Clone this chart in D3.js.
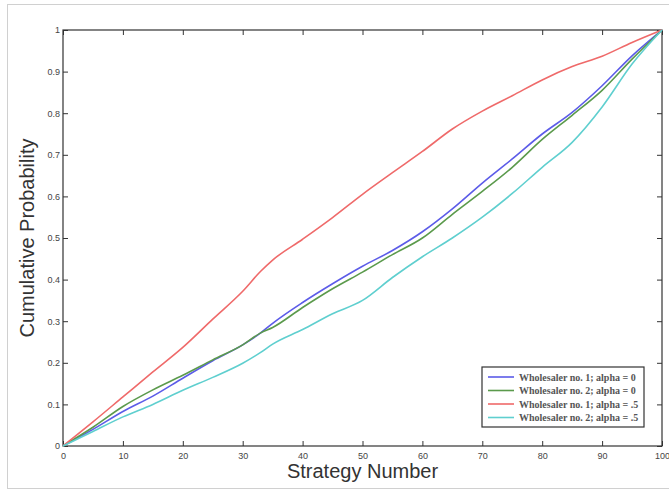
<!DOCTYPE html>
<html>
<head>
<meta charset="utf-8">
<script src="https://cdn.jsdelivr.net/npm/d3@7"></script>
<style>
  body { margin: 0; background: #fff; }
  svg { display: block; }
</style>
</head>
<body>
<script>

// strategy numbers where the curves were read
var strategy = [0, 5, 10, 15, 20, 25, 30, 33, 35, 40, 45, 50, 55, 60, 65, 70, 75, 80, 85, 90, 95, 100]

var w1a0 = [0, 0.040, 0.083, 0.120, 0.163, 0.205, 0.243, 0.272, 0.295, 0.345, 0.390, 0.432, 0.470, 0.515, 0.570, 0.632, 0.690, 0.750, 0.802, 0.866, 0.938, 1]
var w2a0 = [0, 0.045, 0.095, 0.135, 0.170, 0.207, 0.243, 0.272, 0.285, 0.333, 0.378, 0.418, 0.460, 0.500, 0.557, 0.612, 0.670, 0.737, 0.795, 0.855, 0.930, 1]
var w1a5 = [0, 0.058, 0.118, 0.178, 0.237, 0.305, 0.372, 0.420, 0.447, 0.497, 0.549, 0.605, 0.657, 0.708, 0.762, 0.805, 0.842, 0.880, 0.912, 0.937, 0.970, 1]
var w2a5 = [0, 0.035, 0.070, 0.100, 0.134, 0.165, 0.199, 0.225, 0.245, 0.280, 0.318, 0.350, 0.405, 0.455, 0.500, 0.550, 0.607, 0.670, 0.730, 0.815, 0.918, 1]

var seriesNames = ["Wholesaler no. 1; alpha = 0", "Wholesaler no. 2; alpha = 0",
                   "Wholesaler no. 1; alpha = .5", "Wholesaler no. 2; alpha = .5"]
var seriesValues = [w1a0, w2a0, w1a5, w2a5]
var seriesColors = ["#5c5ce8", "#5b9a4c", "#ef6a6a", "#5fcfcf"]

var xTicks = [0, 10, 20, 30, 40, 50, 60, 70, 80, 90, 100]
var yTicks = [0, 0.1, 0.2, 0.3, 0.4, 0.5, 0.6, 0.7, 0.8, 0.9, 1]

var width = 669, height = 491
var margin = {top: 30, right: 7, bottom: 45, left: 63}
var innerW = width - margin.left - margin.right,
    innerH = height - margin.top - margin.bottom

var svg = d3.select("body").append("svg")
    .attr("width", width)
    .attr("height", height)

// light frame round the figure
svg.append("rect")
    .attr("x", 7.5).attr("y", 4.5)
    .attr("width", 700).attr("height", 484)
    .attr("fill", "none")
    .attr("stroke", "#d0d0d0")

var g = svg.append("g")
    .attr("transform", "translate(" + margin.left + "," + margin.top + ")")

var x = d3.scaleLinear().domain([0, 100]).range([0, innerW])
var y = d3.scaleLinear().domain([0, 1]).range([innerH, 0])

var tickFont = "Liberation Sans, Arial, sans-serif"

// axes, ticks pointing inward
function styleAxis(sel) {
  sel.select(".domain").remove()
  sel.selectAll(".tick line").attr("stroke", "#333")
  sel.selectAll(".tick text")
    .attr("fill", "#444")
    .style("font-family", tickFont)
    .style("font-size", "9px")
}

g.append("g")
    .attr("transform", "translate(0," + innerH + ")")
    .call(d3.axisBottom(x).tickValues(xTicks).tickSizeInner(-5).tickPadding(7).tickFormat(d3.format("d")))
    .call(styleAxis)

g.append("g")
    .call(d3.axisTop(x).tickValues(xTicks).tickSizeInner(-5).tickFormat(""))
    .call(styleAxis)

g.append("g")
    .call(d3.axisLeft(y).tickValues(yTicks).tickSizeInner(-5).tickPadding(3).tickFormat(d3.format("~g")))
    .call(styleAxis)

g.append("g")
    .attr("transform", "translate(" + innerW + ",0)")
    .call(d3.axisRight(y).tickValues(yTicks).tickSizeInner(-5).tickFormat(""))
    .call(styleAxis)

g.append("rect")
    .attr("width", innerW).attr("height", innerH)
    .attr("fill", "none")
    .attr("stroke", "#333")
    .attr("stroke-width", 1.2)

// curves
var line = d3.line()
    .curve(d3.curveMonotoneX)
    .x(function(d, i) { return x(strategy[i]) })
    .y(function(d) { return y(d) })

g.selectAll(".curve")
    .data(seriesValues)
  .enter().append("path")
    .attr("class", "curve")
    .attr("d", line)
    .attr("fill", "none")
    .attr("stroke", function(d, i) { return seriesColors[i] })
    .attr("stroke-width", 1.6)
    .attr("stroke-linejoin", "round")

// axis titles
svg.append("text")
    .attr("x", margin.left + innerW / 2)
    .attr("y", 478)
    .attr("text-anchor", "middle")
    .style("font-family", tickFont)
    .style("font-size", "20px")
    .attr("fill", "#333")
    .text("Strategy Number")

svg.append("text")
    .attr("transform", "translate(34," + (margin.top + innerH / 2) + ") rotate(-90)")
    .attr("text-anchor", "middle")
    .style("font-family", tickFont)
    .style("font-size", "20px")
    .attr("fill", "#333")
    .text("Cumulative Probability")

// legend
var lg = svg.append("g").attr("transform", "translate(482,367)")
lg.append("rect")
    .attr("width", 162).attr("height", 60)
    .attr("fill", "#fff")
    .attr("stroke", "#333")
    .attr("stroke-width", 1.2)

var rows = lg.selectAll(".row")
    .data(seriesNames)
  .enter().append("g")
    .attr("class", "row")
    .attr("transform", function(d, i) { return "translate(0," + (10 + i * 13.5) + ")" })

rows.append("line")
    .attr("x1", 6).attr("x2", 32)
    .attr("stroke", function(d, i) { return seriesColors[i] })
    .attr("stroke-width", 1.6)

rows.append("text")
    .attr("x", 37)
    .attr("y", 3.5)
    .style("font-family", "Liberation Serif, serif")
    .style("font-size", "10px")
    .style("font-weight", "bold")
    .attr("fill", "#555")
    .text(function(d) { return d })

</script>
</body>
</html>
